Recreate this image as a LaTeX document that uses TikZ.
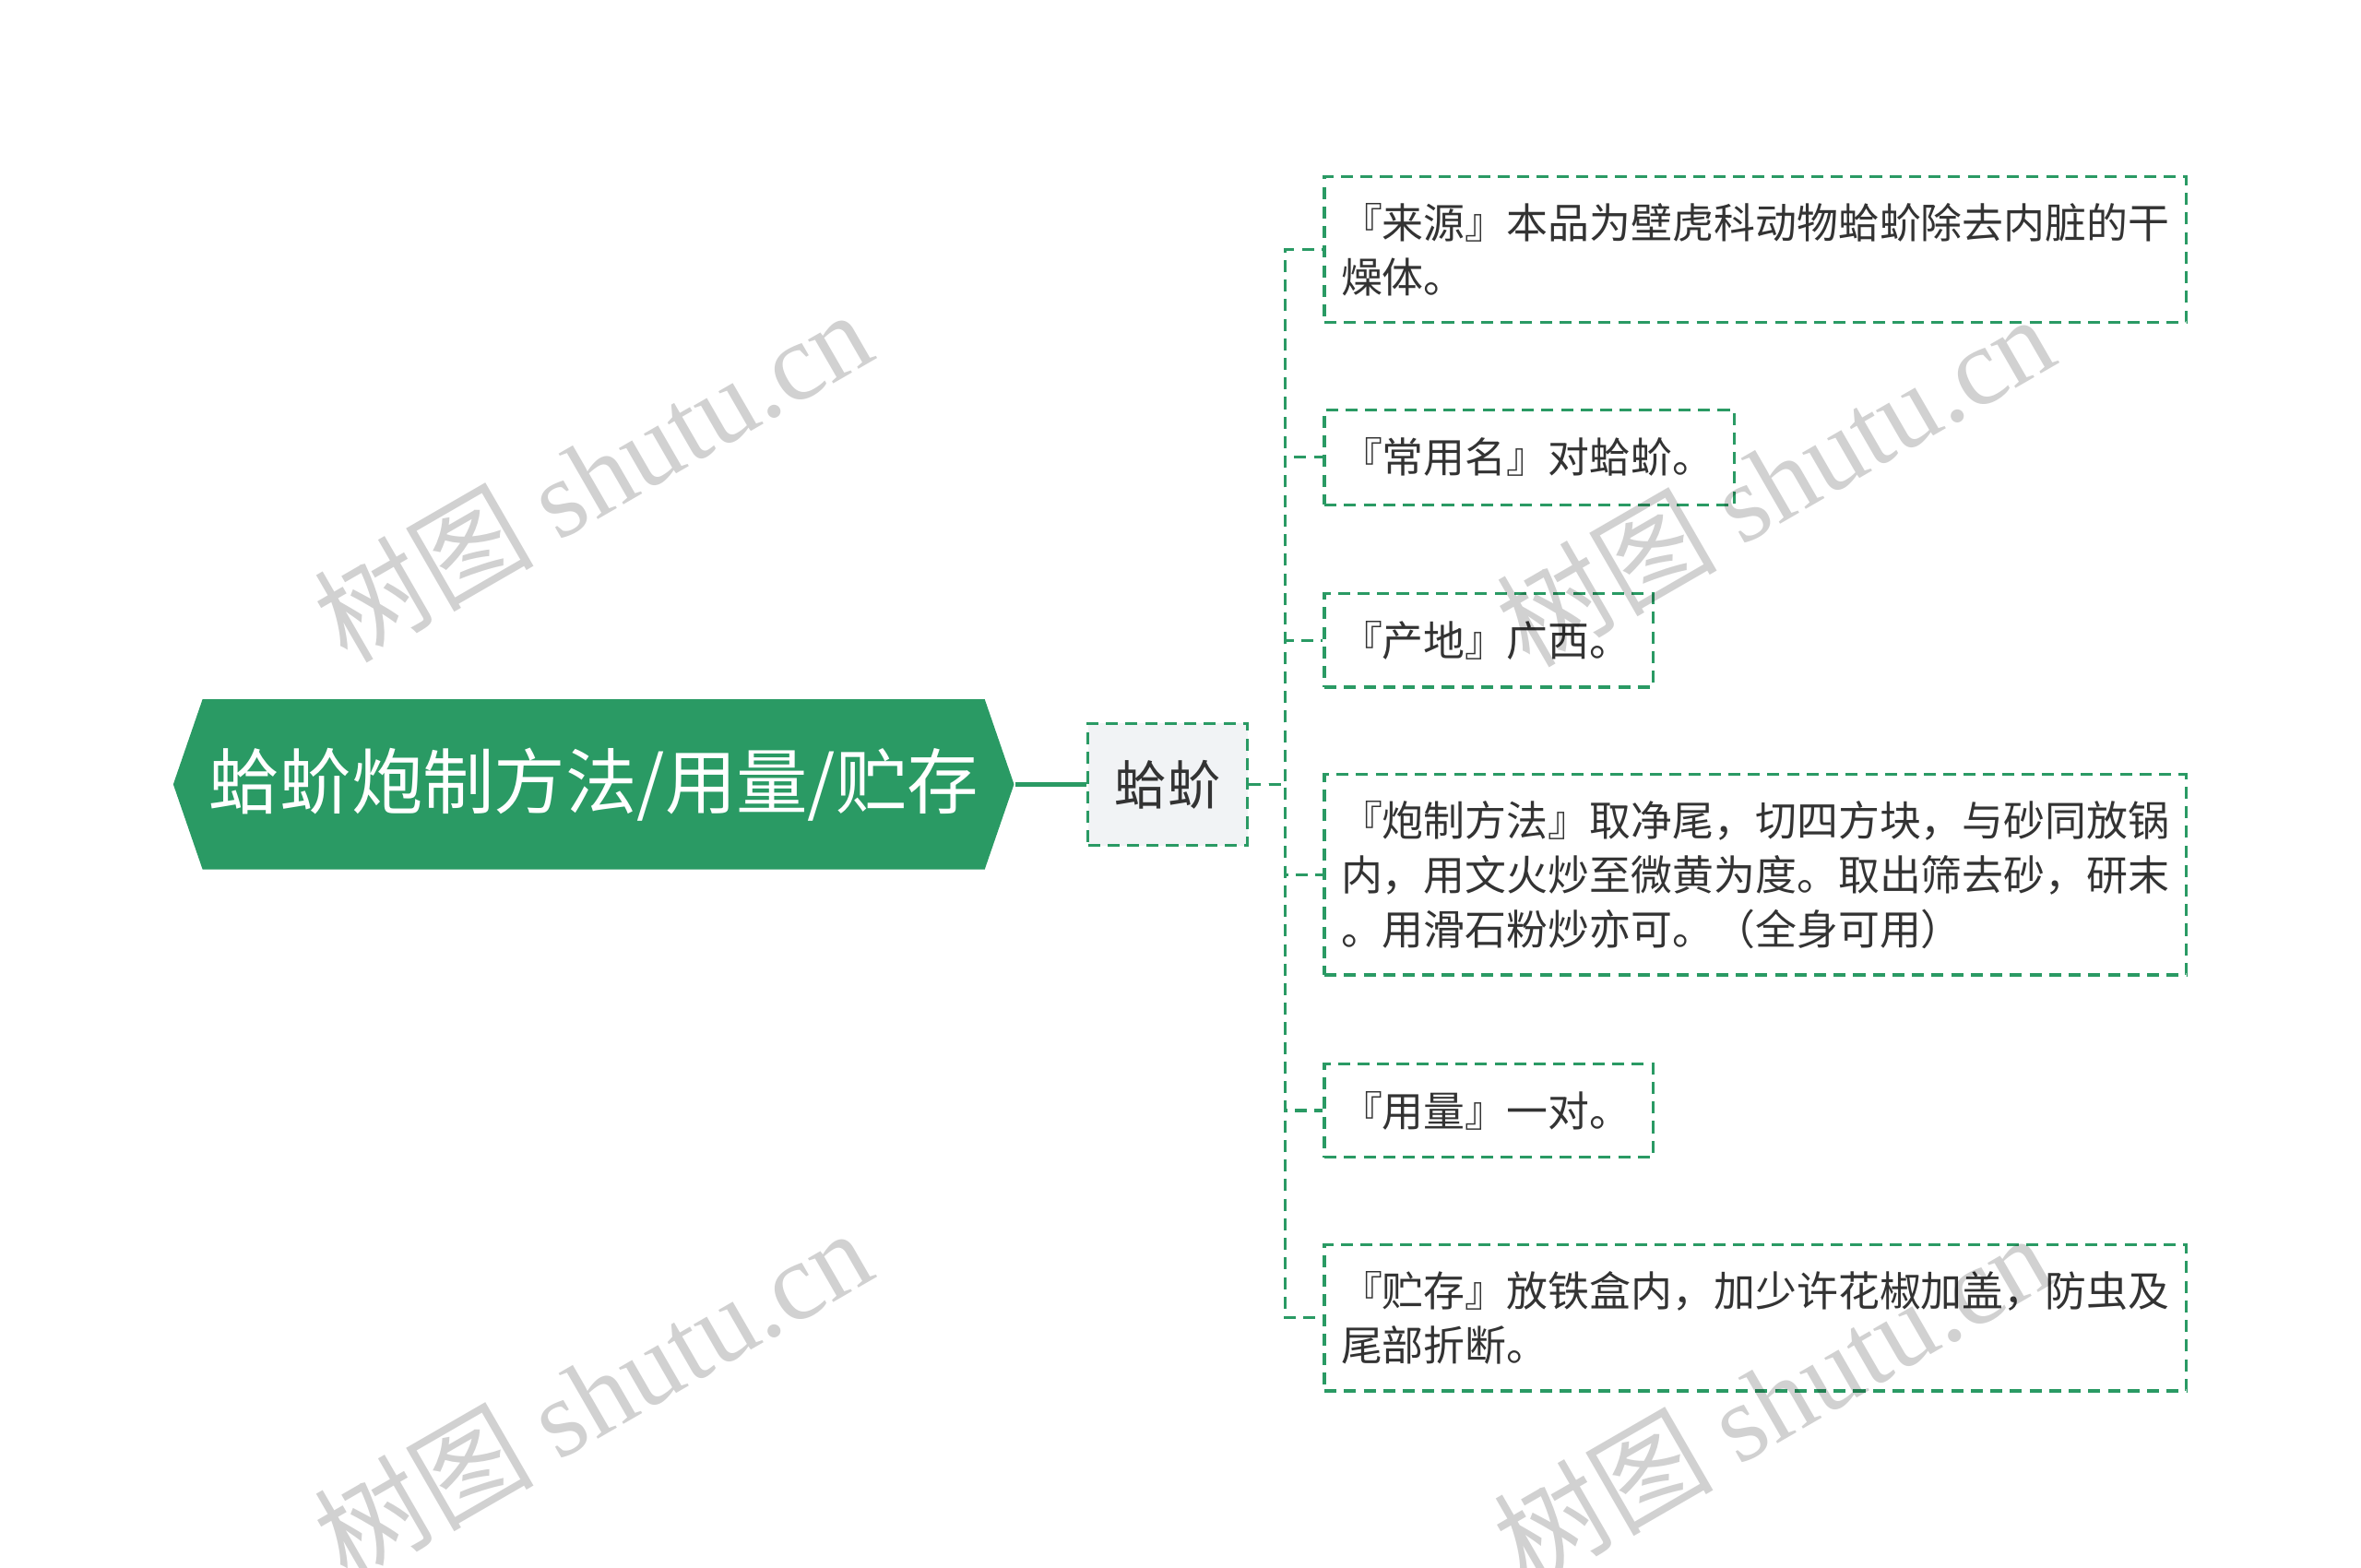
\documentclass[tikz,border=0pt]{standalone}
\usepackage{fontspec}
\setmainfont{Noto Sans CJK SC}
\newfontfamily\wmfont{Liberation Serif}
\usetikzlibrary{shapes.symbols}
\definecolor{mapgreen}{RGB}{42,154,100}
\definecolor{hubgray}{RGB}{241,243,245}
\definecolor{inkgray}{RGB}{51,51,51}
\tikzset{every picture/.style={line width=2pt},
	rootbox/.style={shape=signal, signal to=west and east, signal pointer angle=142, fill=mapgreen, text=white, minimum width=558pt, minimum height=113pt, inner sep=0pt, font=\fontsize{47.4}{56}\selectfont},
	hubbox/.style={draw=mapgreen, dash pattern=on 8pt off 5pt, fill=hubgray, text=inkgray, minimum width=106pt, minimum height=81pt, inner sep=0pt, font=\fontsize{35}{42}\selectfont},
	leafbox/.style={draw=mapgreen, dash pattern=on 8pt off 5pt, text=inkgray, align=left, anchor=west, inner xsep=11pt, inner ysep=0pt, font=\fontsize{27.5}{36}\selectfont},
	link/.style={draw=mapgreen, dash pattern=on 8pt off 5pt},
	wmtext/.style={text=black, text opacity=0.18, rotate=30, font=\fontsize{73}{82}\selectfont}
}

\begin{document}
\begin{tikzpicture}[x=1pt,y=-1pt]
			\useasboundingbox (0,0) rectangle (1567,1040);
			\node[rootbox] (root) at (394,520.5) {蛤蚧炮制方法/用量/贮存};
			\node[hubbox] (gj) at (775,520.5) {蛤蚧};
			\draw[mapgreen, line width=3pt] (root.east) -- (gj.west);
			\node[leafbox, text width=550pt, minimum height=97pt] (src) at (878,165.5) {『来源』本品为壁虎科动物蛤蚧除去内脏的干\\燥体。};
			\node[leafbox, text width=250pt, minimum height=63pt] (alias) at (878,303.5) {『常用名』对蛤蚧。};
			\node[leafbox, text width=196pt, minimum height=62pt] (origin) at (878,425) {『产地』广西。};
			\node[leafbox, text width=550pt, minimum height=133pt] (method) at (878,580.5) {『炮制方法』取净尾，切四方块，与砂同放锅\\内，用文火炒至微黄为度。取出筛去砂，研末\\。用滑石粉炒亦可。（全身可用）};
			\node[leafbox, text width=196pt, minimum height=62pt] (dose) at (878,737) {『用量』一对。};
			\node[leafbox, text width=550pt, minimum height=97pt] (store) at (878,874.5) {『贮存』放铁盒内，加少许花椒加盖，防虫及\\尾部折断。};
			\foreach \leaf in {src,alias,origin,method,dose,store}
				\draw[link] (gj.east) -- ++(24,0) |- (\leaf.west);
			\node[wmtext] (wm1) at (393,315) {树图 {\wmfont shutu.cn}};
			\node[wmtext] (wm2) at (1178,318) {树图 {\wmfont shutu.cn}};
			\node[wmtext] (wm3) at (393,925) {树图 {\wmfont shutu.cn}};
			\node[wmtext] (wm4) at (1176,928) {树图 {\wmfont shutu.cn}};
		\end{tikzpicture}
\end{document}
